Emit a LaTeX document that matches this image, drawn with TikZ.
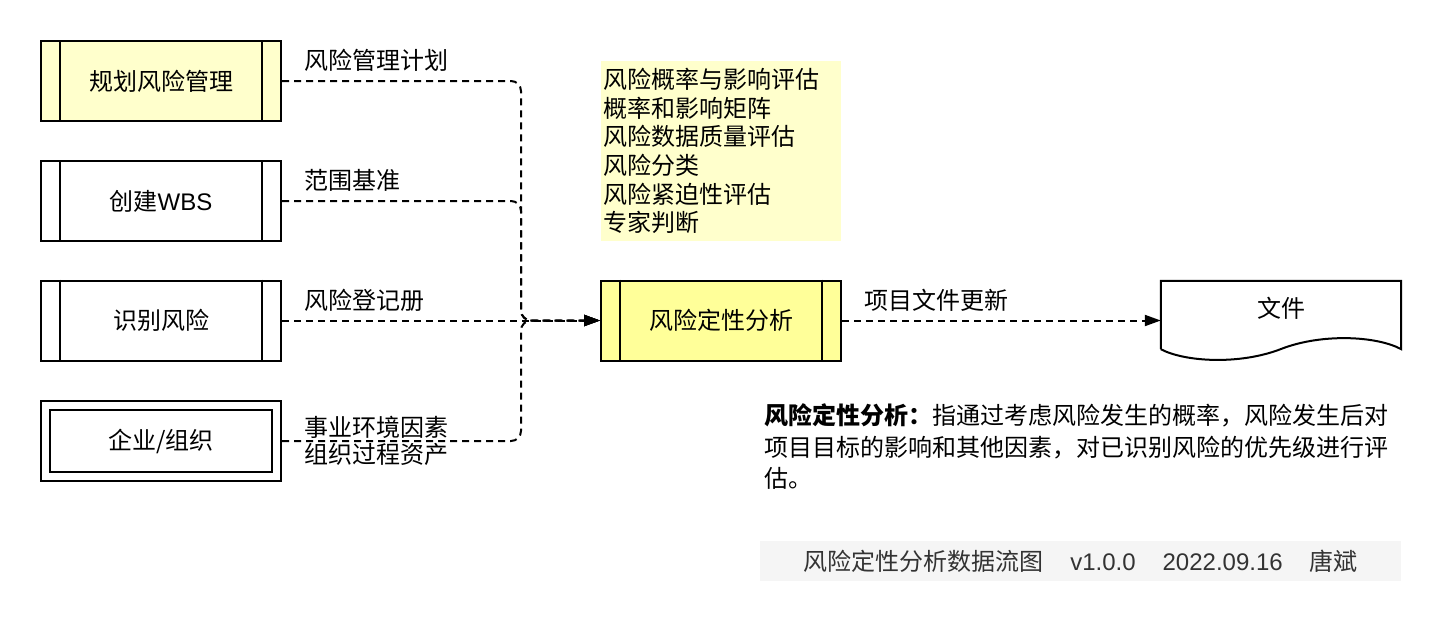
\documentclass[tikz,border=0pt]{standalone}
\usepackage{fontspec}
\setmainfont{Noto Sans CJK SC}
\newfontfamily\lat{Liberation Sans}
\usetikzlibrary{arrows.meta}
\definecolor{lightyel}{HTML}{FFFFCC}
\definecolor{midyel}{HTML}{FFFF99}
\definecolor{notebg}{HTML}{FFFFCC}
\definecolor{footbg}{HTML}{F5F5F5}
\definecolor{foottxt}{HTML}{333333}
\begin{document}
\begin{tikzpicture}[x=1pt,y=-1pt,
  every node/.style={font=\fontsize{24}{28.6}\selectfont},
  proc/.style={draw, line width=2pt, minimum width=240pt, minimum height=80pt, inner sep=0pt},
  flow/.style={line width=2pt, dash pattern=on 7pt off 5pt, rounded corners=10pt, -{Triangle[length=16pt,width=11pt]}},
  lbl/.style={anchor=west, inner sep=0pt}
]
\useasboundingbox (0,0) rectangle (1442,622);

% left boxes
\node[proc, fill=lightyel] (b1) at (161,81) {规划风险管理};
\node[proc] (b2) at (161,201) {创建{\lat WBS}};
\node[proc] (b3) at (161,320.5) {识别风险};
\node[proc] (b4) at (161,441) {企业/组织};
\foreach \b in {b1,b2,b3}{
  \draw[line width=2pt] ([xshift=20pt]\b.north west) -- ([xshift=20pt]\b.south west);
  \draw[line width=2pt] ([xshift=-20pt]\b.north east) -- ([xshift=-20pt]\b.south east);
}
\draw[line width=2pt] ([shift={(10pt,10pt)}]b4.south west) rectangle ([shift={(-10pt,-10pt)}]b4.north east);

% center process
\node[proc, fill=midyel] (c) at (721,320.5) {风险定性分析};
\draw[line width=2pt] ([xshift=20pt]c.north west) -- ([xshift=20pt]c.south west);
\draw[line width=2pt] ([xshift=-20pt]c.north east) -- ([xshift=-20pt]c.south east);

% note
\node[fill=notebg, minimum width=240pt, minimum height=180pt, text width=236pt, inner sep=2pt, align=left] (note) at (721,151)
 {风险概率与影响评估\\概率和影响矩阵\\风险数据质量评估\\风险分类\\风险紧迫性评估\\专家判断};

% document
\node[minimum width=240pt, minimum height=68pt, inner sep=0pt] (doc) at (1281,315) {};
\draw[line width=2pt] (doc.south west) -- (doc.north west) -- (doc.north east) -- (doc.south east)
  .. controls (1377,336) and (1322,333) .. (1281,349)
  .. controls (1240,365) and (1185,362) .. (doc.south west);
\node (doclabel) at (1281,308) {文件};

% connectors
\coordinate (j) at (521,320.5);
\draw[flow] (b1.east) -- (b1.east -| j) -- (j) -- (c.west);
\draw[flow] (b2.east) -- (b2.east -| j) -- (j) -- (c.west);
\draw[flow] (b3.east) -- (c.west);
\draw[flow] (b4.east) -- (b4.east -| j) -- (j) -- (c.west);
\draw[flow] (c.east) -- (c.east -| doc.west);

% labels
\node[lbl] (l1) at (304,60) {风险管理计划};
\node[lbl] (l2) at (304,180) {范围基准};
\node[lbl] (l3) at (304,300) {风险登记册};
\node[lbl] (l4) at (304,427) {事业环境因素};
\node[lbl] (l5) at (304,454) {组织过程资产};
\node[lbl] (l6) at (864,300) {项目文件更新};

% description
\node[anchor=west, align=left, inner sep=0pt, font=\fontsize{24}{31.5}\selectfont] (desc) at (764,447)
 {\textbf{风险定性分析：}指通过考虑风险发生的概率，风险发生后对\\项目目标的影响和其他因素，对已识别风险的优先级进行评\\估。};

% footer
\node[fill=footbg, minimum width=641pt, minimum height=40pt, inner sep=0pt, text=foottxt] (footer) at (1080.5,561)
 {风险定性分析数据流图\hspace{27pt}{\lat v1.0.0}\hspace{27pt}{\lat 2022.09.16}\hspace{27pt}唐斌};
\end{tikzpicture}
\end{document}
